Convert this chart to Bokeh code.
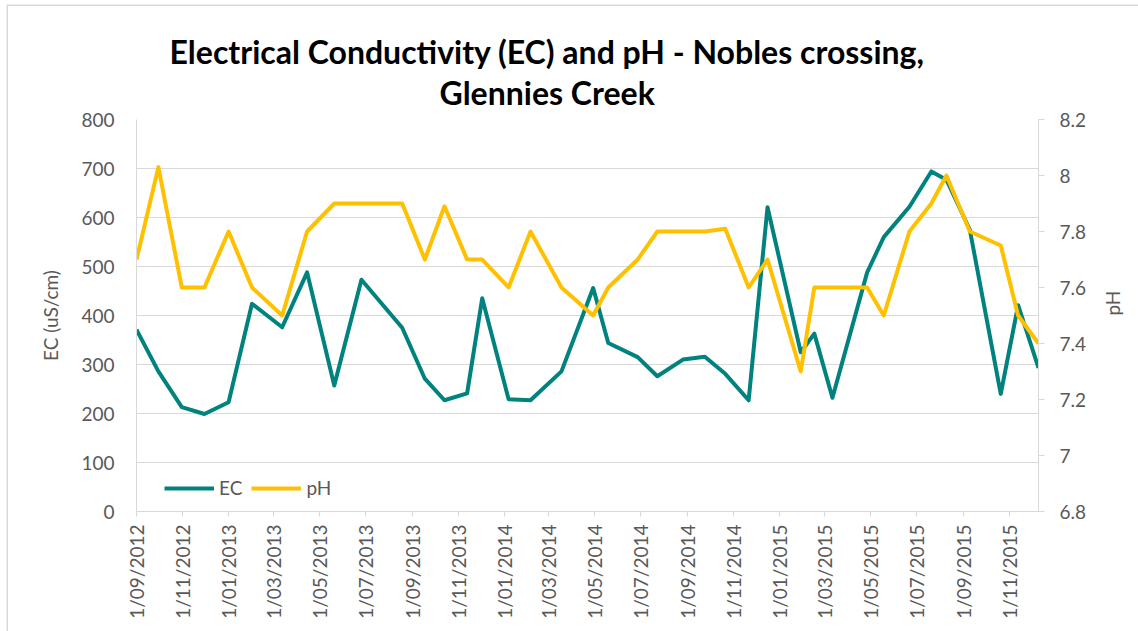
import math
from datetime import datetime

from bokeh.plotting import figure
from bokeh.models import Range1d, LinearAxis, FixedTicker, Legend, LegendItem, Title
from bokeh.embed import file_html
from bokeh.resources import INLINE

# ---------------- data ----------------
dates = [
    "2012-09-01", "2012-09-30", "2012-10-31", "2012-11-30", "2013-01-01",
    "2013-02-01", "2013-03-13", "2013-04-15", "2013-05-21", "2013-06-26",
    "2013-08-19", "2013-09-18", "2013-10-14", "2013-11-13", "2013-12-03",
    "2014-01-07", "2014-02-05", "2014-03-18", "2014-04-29", "2014-05-19",
    "2014-06-27", "2014-07-23", "2014-08-26", "2014-09-24", "2014-10-21",
    "2014-11-21", "2014-12-16", "2015-01-29", "2015-02-16", "2015-03-12",
    "2015-04-27", "2015-05-19", "2015-06-22", "2015-07-21", "2015-08-10",
    "2015-09-10", "2015-10-21", "2015-11-13", "2015-12-10",
]
ec_values = [
    371, 286, 213, 199, 223, 424, 376, 488, 257, 473,
    375, 271, 227, 241, 435, 229, 227, 286, 456, 344,
    315, 276, 310, 316, 281, 227, 621, 325, 363, 232,
    488, 560, 622, 694, 677, 575, 240, 421, 293,
]
ph_values = [
    7.7, 8.03, 7.6, 7.6, 7.8, 7.6, 7.5, 7.8, 7.9, 7.9,
    7.9, 7.7, 7.89, 7.7, 7.7, 7.6, 7.8, 7.6, 7.5, 7.6,
    7.7, 7.8, 7.8, 7.8, 7.81, 7.6, 7.7, 7.3, 7.6, 7.6,
    7.6, 7.5, 7.8, 7.9, 8.0, 7.8, 7.75, 7.5, 7.4,
]
x_tick_labels = [
    "1/09/2012", "1/11/2012", "1/01/2013", "1/03/2013", "1/05/2013",
    "1/07/2013", "1/09/2013", "1/11/2013", "1/01/2014", "1/03/2014",
    "1/05/2014", "1/07/2014", "1/09/2014", "1/11/2014", "1/01/2015",
    "1/03/2015", "1/05/2015", "1/07/2015", "1/09/2015", "1/11/2015",
]
ec_tick_labels = ["0", "100", "200", "300", "400", "500", "600", "700", "800"]
ph_tick_labels = ["6.8", "7", "7.2", "7.4", "7.6", "7.8", "8", "8.2"]

title_lines = ["Electrical Conductivity (EC) and pH - Nobles crossing,", "Glennies Creek"]
ec_axis_title = "EC (uS/cm)"
ph_axis_title = "pH"

# ---------------- helpers ----------------
EPOCH = datetime(1970, 1, 1)


def to_ms(d):
    return (d - EPOCH).total_seconds() * 1000.0


xs = [datetime.strptime(d, "%Y-%m-%d") for d in dates]
x_ticks = [to_ms(datetime.strptime(s, "%d/%m/%Y")) for s in x_tick_labels]
ec_ticks = [float(s) for s in ec_tick_labels]
ph_ticks = [float(s) for s in ph_tick_labels]

FONT = "Lato"
GREY_TXT = "#595959"
GREY_LINE = "#D9D9D9"
TEAL = "#00827F"
GOLD = "#FFC000"

# ---------------- figure ----------------
p = figure(
    width=1138, height=631,
    x_axis_type="datetime",
    x_range=Range1d(xs[0], xs[-1]),
    y_range=Range1d(ec_ticks[0], ec_ticks[-1]),
    output_backend="svg", toolbar_location=None,
    min_border_left=136, min_border_right=96,
    min_border_top=119, min_border_bottom=120,
)
p.title.text = ""
p.extra_y_ranges = {"ph": Range1d(ph_ticks[0], ph_ticks[-1])}
p.outline_line_color = None
p.background_fill_color = "white"
p.border_fill_color = "white"
p.border_fill_alpha = 0
# thin chart-area border on the left and top edges (drawn behind the transparent canvas)
p.styles = {
    "background-color": "white",
    "box-shadow": "inset 6.5px 4.5px 0 0 white, inset 8px 6px 0 0 #D9D9D9",
}

# grid
p.xgrid.visible = False
p.ygrid.grid_line_color = GREY_LINE
p.ygrid.grid_line_width = 1

# left axis
ya = p.yaxis[0]
ya.ticker = FixedTicker(ticks=ec_ticks)
ya.axis_line_color = GREY_LINE
ya.major_tick_line_color = None
ya.major_tick_out = 0
ya.major_tick_in = 0
ya.minor_tick_line_color = None
ya.major_label_text_font = FONT
ya.major_label_text_font_size = "19px"
ya.major_label_text_color = GREY_TXT
ya.major_label_standoff = 22
ya.axis_label = ec_axis_title
ya.axis_label_text_font = FONT
ya.axis_label_text_font_size = "19px"
ya.axis_label_text_font_style = "normal"
ya.axis_label_text_color = GREY_TXT
ya.axis_label_standoff = 16

# bottom axis
xa = p.xaxis[0]
xa.ticker = FixedTicker(ticks=x_ticks)
xa.major_label_overrides = dict(zip(x_ticks, x_tick_labels))
xa.major_label_orientation = math.pi / 2
xa.axis_line_color = GREY_LINE
xa.major_tick_line_color = GREY_LINE
xa.major_tick_out = 5
xa.major_tick_in = 0
xa.minor_tick_line_color = None
xa.major_label_text_font = FONT
xa.major_label_text_font_size = "19px"
xa.major_label_text_color = GREY_TXT
xa.major_label_standoff = 8

# right axis
ra = LinearAxis(
    y_range_name="ph",
    ticker=FixedTicker(ticks=ph_ticks),
    major_label_overrides=dict(zip(ph_ticks, ph_tick_labels)),
)
ra.axis_line_color = GREY_LINE
ra.major_tick_line_color = GREY_LINE
ra.major_tick_out = 6
ra.major_tick_in = 0
ra.minor_tick_line_color = None
ra.major_label_text_font = FONT
ra.major_label_text_font_size = "19px"
ra.major_label_text_color = GREY_TXT
ra.major_label_standoff = 15
ra.axis_label = ph_axis_title
ra.axis_label_text_font = FONT
ra.axis_label_text_font_size = "19px"
ra.axis_label_text_font_style = "normal"
ra.axis_label_text_color = GREY_TXT
ra.axis_label_standoff = 23
if "axis_label_orientation" in ra.properties():
    ra.axis_label_orientation = math.pi / 2
p.add_layout(ra, "right")

# series
ec_r = p.line(xs, ec_values, line_color=TEAL, line_width=4, line_join="round")
ph_r = p.line(xs, ph_values, y_range_name="ph", line_color=GOLD, line_width=4, line_join="round")

legend = Legend(
    items=[LegendItem(label="EC", renderers=[ec_r]), LegendItem(label="pH", renderers=[ph_r])],
    orientation="horizontal", location=(28, 12),
    glyph_width=50, glyph_height=20, label_standoff=5, spacing=9,
    padding=0, margin=0,
    label_text_font=FONT, label_text_font_size="19px", label_text_color=GREY_TXT,
    background_fill_alpha=0, border_line_alpha=0,
)
p.add_layout(legend)

# titles, stacked above the frame (first added = nearest the frame)
p.add_layout(Title(text=" ", text_font_size="1px", standoff=4), "above")
for txt, off in zip(reversed(title_lines), [303, 33]):
    p.add_layout(Title(
        text=txt, align="left", offset=off, vertical_align="middle", standoff=0,
        text_font=FONT, text_font_style="bold", text_font_size="32px", text_color="black",
    ), "above")

open("out.html", "w").write(file_html(p, INLINE))
